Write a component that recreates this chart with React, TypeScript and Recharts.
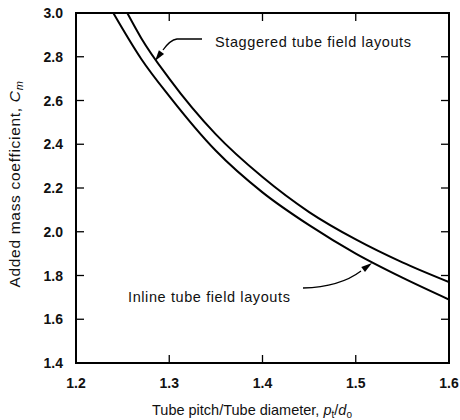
import React from 'react';
import { LineChart, Line, XAxis, YAxis, ReferenceArea } from 'recharts';

// values
const inlinePitch = [1.24, 1.27, 1.3, 1.35, 1.4, 1.45, 1.5, 1.55, 1.6];
const inlineCm = [3.0, 2.79, 2.62, 2.37, 2.18, 2.03, 1.9, 1.79, 1.69];
const staggeredPitch = [1.255, 1.27, 1.3, 1.35, 1.4, 1.45, 1.5, 1.55, 1.6];
const staggeredCm = [3.0, 2.885, 2.7, 2.445, 2.25, 2.09, 1.965, 1.86, 1.77];

const xTicks = [1.2, 1.3, 1.4, 1.5, 1.6];
const yTicks = [1.4, 1.6, 1.8, 2.0, 2.2, 2.4, 2.6, 2.8, 3.0];

const W = 460;
const H = 420;
const MARGIN = { top: 13, right: 11, left: 0, bottom: 0 };
const Y_AXIS_W = 76;
const X_AXIS_H = 57;
const PLOT_TOP = MARGIN.top;
const PLOT_BOTTOM = H - X_AXIS_H - MARGIN.bottom;
const PLOT_LEFT = MARGIN.left + Y_AXIS_W;
const PLOT_RIGHT = W - MARGIN.right;
const TICK_LEN = 8;
const FONT = '"Liberation Sans", Arial, Helvetica, sans-serif';

const toSeries = (xs: number[], ys: number[]) => xs.map((x, i) => ({ x, cm: ys[i] }));
const inlineData = toSeries(inlinePitch, inlineCm);
const staggeredData = toSeries(staggeredPitch, staggeredCm);

// bottom labels plus inward ticks on bottom and top
const XTick = (props: any) => {
  const { x, y, payload } = props;
  const v: number = payload.value;
  const edge = v === xTicks[0] || v === xTicks[xTicks.length - 1];
  return (
    <g>
      {!edge && (
        <>
          <line x1={x} x2={x} y1={PLOT_BOTTOM} y2={PLOT_BOTTOM - TICK_LEN} stroke="#000" strokeWidth={1.3} />
          <line x1={x} x2={x} y1={PLOT_TOP} y2={PLOT_TOP + TICK_LEN} stroke="#000" strokeWidth={1.3} />
        </>
      )}
      <text x={x} y={y} dy={11} textAnchor="middle" fontFamily={FONT} fontSize={14} fontWeight="bold" fill="#111">
        {v.toFixed(1)}
      </text>
    </g>
  );
};

// left labels plus inward ticks on left and right
const YTick = (props: any) => {
  const { x, y, payload } = props;
  const v: number = payload.value;
  const edge = v === yTicks[0] || v === yTicks[yTicks.length - 1];
  return (
    <g>
      {!edge && (
        <>
          <line x1={PLOT_LEFT} x2={PLOT_LEFT + TICK_LEN} y1={y} y2={y} stroke="#000" strokeWidth={1.3} />
          <line x1={PLOT_RIGHT} x2={PLOT_RIGHT - TICK_LEN} y1={y} y2={y} stroke="#000" strokeWidth={1.3} />
        </>
      )}
      <text x={x} y={y} dy={5} textAnchor="end" fontFamily={FONT} fontSize={14} fontWeight="bold" fill="#111">
        {v.toFixed(1)}
      </text>
    </g>
  );
};

const arrowHead = (tx: number, ty: number, fx: number, fy: number, len = 11, half = 3.2) => {
  const dx = tx - fx;
  const dy = ty - fy;
  const d = Math.hypot(dx, dy);
  const ux = dx / d;
  const uy = dy / d;
  const bx = tx - ux * len;
  const by = ty - uy * len;
  return `${tx},${ty} ${bx - uy * half},${by + ux * half} ${bx + uy * half},${by - ux * half}`;
};

const Annotations = () => (
  <svg width={W} height={H} style={{ position: 'absolute', left: 0, top: 0, pointerEvents: 'none' }}>
    <g fontFamily={FONT} fill="#111">
      <g fontSize={14.5} letterSpacing={0.6}>
        <text x={215} y={47}>Staggered tube field layouts</text>
        <text x={128} y={302}>Inline tube field layouts</text>
      </g>
      <text x={152} y={415} fontSize={14.5}>
        Tube pitch/Tube diameter,{' '}
        <tspan fontStyle="italic">p</tspan>
        <tspan fontSize={10} dy={3}>t</tspan>
        <tspan dy={-3}>/</tspan>
        <tspan fontStyle="italic">d</tspan>
        <tspan fontSize={10} dy={3}>o</tspan>
      </text>
      <text transform="translate(20,184) rotate(-90)" textAnchor="middle" fontSize={15.5} letterSpacing={0.7}>
        Added mass coefficient,{' '}
        <tspan fontStyle="italic">C</tspan>
        <tspan fontSize={11} fontStyle="italic" dy={3}>m</tspan>
      </text>
    </g>
    <path d="M 202 39 L 177 39 Q 170 40 163 50" fill="none" stroke="#000" strokeWidth={1.3} />
    <polygon points={arrowHead(155, 61, 163, 50)} fill="#000" />
    <path d="M 303 288 Q 340 287 361 271" fill="none" stroke="#000" strokeWidth={1.3} />
    <polygon points={arrowHead(372, 263, 361, 271)} fill="#000" />
  </svg>
);

export default function App() {
  return (
    <div style={{ position: 'absolute', left: 0, top: 0, width: W, height: H, background: '#fff' }}>
      <LineChart width={W} height={H} margin={MARGIN}>
        <XAxis
          type="number"
          dataKey="x"
          domain={[1.2, 1.6]}
          ticks={xTicks}
          allowDataOverflow
          height={X_AXIS_H}
          axisLine={false}
          tickLine={false}
          tickSize={0}
          tickMargin={14}
          tick={<XTick />}
        />
        <YAxis
          type="number"
          dataKey="cm"
          domain={[1.4, 3.0]}
          ticks={yTicks}
          allowDataOverflow
          width={Y_AXIS_W}
          axisLine={false}
          tickLine={false}
          tickSize={0}
          tickMargin={13}
          tick={<YTick />}
        />
        <ReferenceArea x1={1.2} x2={1.6} y1={1.4} y2={3.0} fill="none" stroke="#000" strokeWidth={2} />
        <Line data={staggeredData} dataKey="cm" type="monotone" stroke="#000" strokeWidth={2} dot={false} isAnimationActive={false} />
        <Line data={inlineData} dataKey="cm" type="monotone" stroke="#000" strokeWidth={2} dot={false} isAnimationActive={false} />
      </LineChart>
      <Annotations />
    </div>
  );
}
